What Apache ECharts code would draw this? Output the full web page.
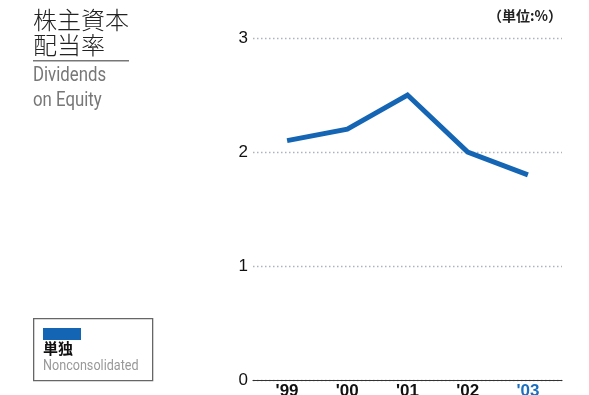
<!DOCTYPE html>
<html><head><meta charset="utf-8">
<script src="https://cdn.jsdelivr.net/npm/echarts@6/dist/echarts.min.js"></script>
<style>html,body{margin:0;padding:0;background:#fff}#c{width:589px;height:395px}</style>
</head><body><div id="c"></div>
<script>
var categories = ["'99", "'00", "'01", "'02", "'03"];
var values = [2.1, 2.2, 2.5, 2.0, 1.8];
var yTicks = [0, 1, 2, 3];
var seriesName = '単独';

var chart = echarts.init(document.getElementById('c'), null, {renderer: 'canvas'});
var lineColor = '#1565b5';
var sans = '"Liberation Sans", Arial, sans-serif';
chart.setOption({
  animation: false,
  grid: [
    {left: 253, right: 27, top: 38, bottom: 15, containLabel: false, outerBoundsMode: 'none'},
    {left: 257, right: 31, top: 38, bottom: 15, containLabel: false, outerBoundsMode: 'none'}
  ],
  xAxis: [
    {gridIndex: 0, type: 'value', min: 0, max: 1, axisLine: {show: true, lineStyle: {color: '#333', width: 1.2}}, axisTick: {show: false}, axisLabel: {show: false}, splitLine: {show: false}},
    {gridIndex: 1, type: 'category', data: categories, boundaryGap: true,
     axisLine: {show: false}, axisTick: {show: false},
     axisLabel: {interval: 0, margin: 3, fontSize: 17, fontWeight: 'bold', fontFamily: sans,
       formatter: function (v, i) { return i === categories.length - 1 ? '{b|' + v + '}' : '{a|' + v + '}'; },
       rich: {a: {color: '#111', fontSize: 17, fontWeight: 'bold', fontFamily: sans},
              b: {color: '#1a6fc0', fontSize: 17, fontWeight: 'bold', fontFamily: sans}}}}
  ],
  yAxis: [
    {gridIndex: 0, type: 'value', min: yTicks[0], max: yTicks[yTicks.length - 1], interval: 1,
     axisLine: {show: false}, axisTick: {show: false},
     axisLabel: {margin: 5, fontSize: 17, color: '#111', fontFamily: sans},
     splitLine: {show: true, lineStyle: {color: '#aab4be', type: [1.5, 2.5], width: 1.3}}},
    {gridIndex: 1, type: 'value', min: yTicks[0], max: yTicks[yTicks.length - 1], interval: 1, show: false}
  ],
  series: [{
    name: seriesName, type: 'line', xAxisIndex: 1, yAxisIndex: 1, data: values,
    symbol: 'none', lineStyle: {color: lineColor, width: 5, join: 'miter'}
  }],
  graphic: [
    {type: 'text', left: 33, top: 7, style: {text: '株主資本\n配当率', font: '300 24px "Noto Sans CJK JP"', fill: '#222', lineHeight: 25}},
    {type: 'rect', left: 33, top: 60, shape: {width: 96, height: 1.5}, style: {fill: '#777'}},
    {type: 'text', x: 33, y: 63, scaleX: 0.8, style: {text: 'Dividends\non Equity', font: '21px Roboto', fill: '#777', lineHeight: 25}},
    {type: 'text', right: 27, top: 9, style: {text: '（単位:%）', font: 'bold 14px "Noto Sans CJK JP"', fill: '#222'}},
    {type: 'rect', left: 33, top: 318, shape: {width: 119, height: 62}, style: {fill: '#fff', stroke: '#666', lineWidth: 1.3}},
    {type: 'rect', left: 43, top: 328, shape: {width: 38, height: 12}, style: {fill: lineColor}},
    {type: 'text', left: 43, top: 341, style: {text: seriesName, font: 'bold 15px "Noto Sans CJK JP"', fill: '#111'}},
    {type: 'text', x: 43, y: 359, scaleX: 0.84, style: {text: 'Nonconsolidated', font: '15px Roboto', fill: '#999'}}
  ]
});
</script></body></html>
